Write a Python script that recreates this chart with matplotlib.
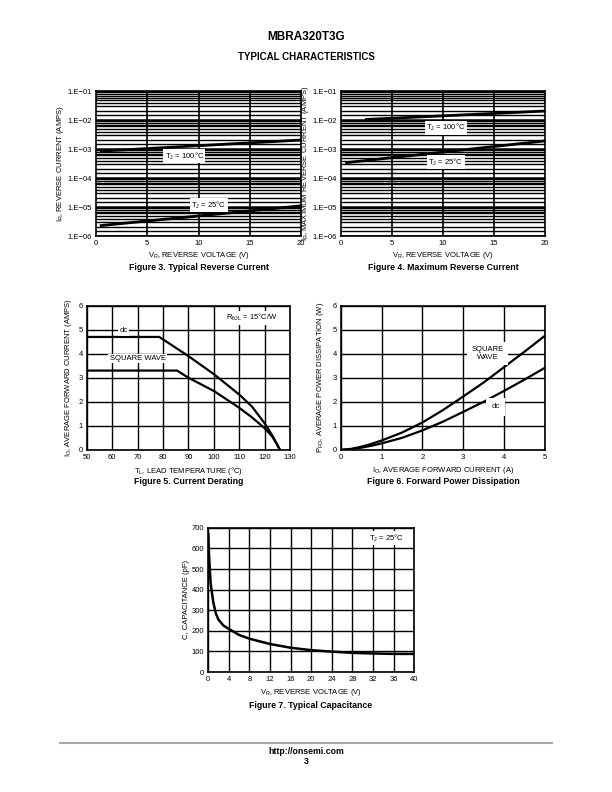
import matplotlib
matplotlib.use("Agg")
import matplotlib.pyplot as plt
import numpy as np

plt.rcParams['font.family'] = ['Liberation Sans', 'DejaVu Sans']
plt.rcParams['mathtext.default'] = 'regular'

# ---- data ----
# Figure 3: typical reverse current
f3_vr = [0.5, 20]
f3_ir_100 = [8.5e-4, 2.05e-3]
f3_ir_25 = [2.3e-6, 1.1e-5]

# Figure 4: maximum reverse current
f4_vr_100 = [2.5, 20]
f4_ir_100 = [1.05e-2, 2.05e-2]
f4_vr_25 = [0.55, 20]
f4_ir_25 = [3.4e-4, 1.9e-3]

# Figure 5: current derating
f5_tl_dc = [50, 78.5, 90, 100, 110, 115, 120, 123, 125, 126]
f5_io_dc = [4.7, 4.7, 3.9, 3.15, 2.3, 1.8, 1.1, 0.6, 0.2, 0.0]
f5_tl_sq = [50, 85.5, 90, 100, 110, 115, 120, 123, 125, 126]
f5_io_sq = [3.3, 3.3, 3.0, 2.45, 1.75, 1.35, 0.9, 0.55, 0.2, 0.0]

# Figure 6: forward power dissipation
f6_io = [0, 0.25, 0.5, 0.75, 1, 1.5, 2, 2.5, 3, 3.5, 4, 4.5, 5]
f6_sq = [0, 0.04, 0.13, 0.25, 0.39, 0.72, 1.14, 1.65, 2.22, 2.8, 3.44, 4.08, 4.74]
f6_dc = [0, 0.03, 0.09, 0.17, 0.27, 0.5, 0.81, 1.17, 1.58, 2.0, 2.45, 2.92, 3.41]

# Figure 7: typical capacitance
f7_vr = [0.05, 0.2, 0.5, 1, 1.5, 2, 3, 4, 6, 8, 12, 16, 20, 24, 28, 32, 36, 40]
f7_c = [670, 560, 430, 340, 285, 255, 225, 210, 180, 162, 136, 118, 106, 99, 93, 90, 88, 88]

log_ticks = [1e-6, 1e-5, 1e-4, 1e-3, 1e-2, 1e-1]
log_labels = ['1.E\u221206', '1.E\u221205', '1.E\u221204', '1.E\u221203', '1.E\u221202', '1.E\u221201']

FS = 5.5
lab_box = dict(facecolor='white', edgecolor='none', pad=1.0)

fig = plt.figure(figsize=(6.12, 7.92), dpi=100)


def frame(ax):
    for s in ax.spines.values():
        s.set_linewidth(1.2)
        s.set_color('black')
    ax.tick_params(length=0, labelsize=FS, pad=3)


def log_axes(ax):
    ax.set_yscale('log')
    ax.set_ylim(1e-6, 1e-1)
    ax.set_xlim(0, 20)
    ax.set_xticks([0, 5, 10, 15, 20])
    ax.set_yticks(log_ticks)
    ax.set_yticklabels(log_labels)
    ax.minorticks_off()
    for d in range(-6, -1):
        for k in [1.5, 2, 3, 4, 5, 6, 7, 8, 9]:
            ax.axhline(k * 10.0 ** d, color='black', lw=1.0, zorder=1)
    for d in log_ticks:
        ax.axhline(d, color='black', lw=1.8, zorder=1)
    for x in [5, 10, 15]:
        ax.axvline(x, color='black', lw=1.2, zorder=1)
    frame(ax)


# Figure 3
ax3 = fig.add_axes([0.157, 0.702, 0.335, 0.183])
log_axes(ax3)
ax3.plot(f3_vr, f3_ir_100, color='black', lw=2.0, zorder=3)
ax3.plot(f3_vr, f3_ir_25, color='black', lw=2.0, zorder=3)
ax3.text(8.6, 5.7e-4, 'T$_J$ = 100\u00b0C', fontsize=FS, ha='center', va='center', bbox=lab_box, zorder=4)
ax3.text(11.0, 1.15e-5, 'T$_J$ = 25\u00b0C', fontsize=FS, ha='center', va='center', bbox=lab_box, zorder=4)
ax3.set_xlabel('V$_R$, REVERSE VOLTAGE (V)', fontsize=FS, labelpad=2)
ax3.set_ylabel('I$_R$, REVERSE CURRENT (AMPS)', fontsize=FS, labelpad=1)

# Figure 4
ax4 = fig.add_axes([0.557, 0.702, 0.333, 0.183])
log_axes(ax4)
ax4.plot(f4_vr_100, f4_ir_100, color='black', lw=2.0, zorder=3)
ax4.plot(f4_vr_25, f4_ir_25, color='black', lw=2.0, zorder=3)
ax4.text(10.3, 5.5e-3, 'T$_J$ = 100\u00b0C', fontsize=FS, ha='center', va='center', bbox=lab_box, zorder=4)
ax4.text(10.3, 3.5e-4, 'T$_J$ = 25\u00b0C', fontsize=FS, ha='center', va='center', bbox=lab_box, zorder=4)
ax4.set_xlabel('V$_R$, REVERSE VOLTAGE (V)', fontsize=FS, labelpad=2)
ax4.set_ylabel('I$_R$, MAXIMUM REVERSE CURRENT (AMPS)', fontsize=FS, labelpad=1)

# Figure 5
ax5 = fig.add_axes([0.142, 0.432, 0.332, 0.182])
ax5.set_xlim(50, 130)
ax5.set_ylim(0, 6)
ax5.set_xticks(range(50, 131, 10))
ax5.set_yticks(range(0, 7))
ax5.grid(True, color='black', lw=1.0)
ax5.set_axisbelow(True)
frame(ax5)
ax5.plot(f5_tl_dc, f5_io_dc, color='black', lw=1.6, zorder=3)
ax5.plot(f5_tl_sq, f5_io_sq, color='black', lw=1.6, zorder=3)
ax5.text(64.5, 4.95, 'dc', fontsize=FS, ha='center', va='center', bbox=lab_box, zorder=4)
ax5.text(70, 3.8, 'SQUARE WAVE', fontsize=FS, ha='center', va='center', bbox=lab_box, zorder=4)
ax5.text(115, 5.5, 'R$_{\\theta JL}$ = 15\u00b0C/W', fontsize=FS, ha='center', va='center', bbox=lab_box, zorder=4)
ax5.set_xlabel('T$_L$, LEAD TEMPERATURE (\u00b0C)', fontsize=FS, labelpad=3)
ax5.set_ylabel('I$_O$, AVERAGE FORWARD CURRENT (AMPS)', fontsize=FS, labelpad=3)

# Figure 6
ax6 = fig.add_axes([0.557, 0.432, 0.333, 0.182])
ax6.set_xlim(0, 5)
ax6.set_ylim(0, 6)
ax6.set_xticks(range(0, 6))
ax6.set_yticks(range(0, 7))
ax6.grid(True, color='black', lw=1.0)
ax6.set_axisbelow(True)
frame(ax6)
ax6.plot(f6_io, f6_sq, color='black', lw=1.6, zorder=3)
ax6.plot(f6_io, f6_dc, color='black', lw=1.6, zorder=3)
ax6.text(3.6, 4.0, 'SQUARE\nWAVE', fontsize=FS, ha='center', va='center', linespacing=1.2,
         bbox=dict(facecolor='white', edgecolor='none', pad=3), zorder=4)
ax6.text(3.8, 1.8, 'dc', fontsize=FS, ha='center', va='center',
         bbox=dict(facecolor='white', edgecolor='none', pad=4), zorder=4)
ax6.set_xlabel('I$_O$, AVERAGE FORWARD CURRENT (A)', fontsize=FS, labelpad=3)
ax6.set_ylabel('P$_{FO}$, AVERAGE POWER DISSIPATION (W)', fontsize=FS, labelpad=5)

# Figure 7
ax7 = fig.add_axes([0.340, 0.1515, 0.337, 0.182])
ax7.set_xlim(0, 40)
ax7.set_ylim(0, 700)
ax7.set_xticks(range(0, 41, 4))
ax7.set_yticks(range(0, 701, 100))
ax7.grid(True, color='black', lw=1.0)
ax7.set_axisbelow(True)
frame(ax7)
ax7.plot(f7_vr, f7_c, color='black', lw=1.8, zorder=3)
ax7.text(34.7, 651, 'T$_J$ = 25\u00b0C', fontsize=FS, ha='center', va='center', bbox=lab_box, zorder=4)
ax7.set_xlabel('V$_R$, REVERSE VOLTAGE (V)', fontsize=FS, labelpad=3)
ax7.set_ylabel('C, CAPACITANCE (pF)', fontsize=FS, labelpad=1)

# captions
cap = dict(fontsize=6.3, fontweight='bold', ha='center', va='center')
fig.text(199 / 612, 1 - 267 / 792, 'Figure 3. Typical Reverse Current', **cap)
fig.text(443 / 612, 1 - 267 / 792, 'Figure 4. Maximum Reverse Current', **cap)
fig.text(189 / 612, 1 - 482 / 792, 'Figure 5. Current Derating', **cap)
fig.text(443 / 612, 1 - 482 / 792, 'Figure 6. Forward Power Dissipation', **cap)
fig.text(311 / 612, 1 - 705 / 792, 'Figure 7. Typical Capacitance', **cap)

# page header / footer
fig.text(0.5, 1 - 37 / 792, 'MBRA320T3G', fontsize=8.5, fontweight='bold', ha='center', va='center')
fig.text(0.5, 1 - 57 / 792, 'TYPICAL CHARACTERISTICS', fontsize=7, fontweight='bold', ha='center', va='center')
fig.add_artist(plt.Line2D([60 / 612, 552 / 612], [1 - 743 / 792] * 2, color='#aaaaaa', lw=1.5))
fig.text(0.5, 1 - 752 / 792, 'http://onsemi.com', fontsize=6.3, fontweight='bold', ha='center', va='center')
fig.text(0.5, 1 - 762 / 792, '3', fontsize=6.3, fontweight='bold', ha='center', va='center')

fig.savefig('out.png', dpi=100)
